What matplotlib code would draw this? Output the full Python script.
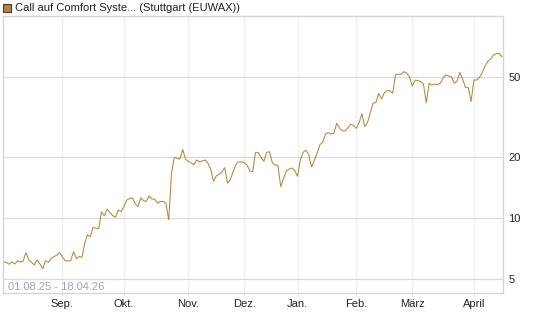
import matplotlib
matplotlib.use("Agg")
import matplotlib.pyplot as plt
from matplotlib.patches import Rectangle
import numpy as np
import pandas as pd

# ---- data (one value per trading day) ----
aug = [6.09, 6.04, 5.91, 6.07, 5.93, 6.16, 6.07, 6.12, 6.75, 6.21, 6.04,
       5.87, 6.21, 5.93, 5.62, 6.16, 6.04, 6.33, 6.45, 6.55, 6.75]
sep = [6.45, 6.16, 6.14, 6.16, 6.83, 6.30, 6.45, 6.40, 7.51, 8.29, 8.10,
       9.01, 8.91, 8.88, 10.77, 10.25, 11.1, 10.65, 10.3, 10.1, 10.98, 10.77]
okt = [11.4, 12.3, 12.5, 12.6, 11.85, 11.4, 12.6, 12.2, 12.1, 12.9, 12.45,
       12.4, 11.85, 12.1, 12.1, 11.85, 9.8, 16.7, 20.0, 19.8, 19.6, 21.9, 19.6]
nov = [19.1, 18.8, 18.4, 19.4, 19.0, 19.2, 19.4, 18.7, 17.5, 15.2, 16.2,
       16.5, 16.9, 17.8, 14.9, 15.5, 17.0, 18.4, 19.0, 19.0]
dez = [18.8, 18.3, 17.1, 17.0, 21.2, 21.1, 20.0, 19.1, 21.2, 21.3, 18.8,
       18.3, 18.3, 14.3, 15.7, 17.1, 17.5, 17.7, 17.2]
jan = [16.1, 19.4, 21.2, 21.7, 20.7, 17.9, 19.3, 21.0, 23.1, 23.8, 26.1,
       26.5, 26.1, 26.3, 29.5, 27.9, 27.1, 27.0, 28.0, 29.2, 28.8]
feb = [27.8, 29.7, 32.9, 28.4, 29.7, 33.3, 37.1, 37.3, 41.5, 39.0, 41.7,
       42.8, 42.8, 41.5, 51.2, 51.7, 51.5, 53.1, 52.2, 50.0]
maerz = [45.1, 48.2, 48.0, 47.4, 46.1, 37.1, 46.5, 45.6, 46.1, 45.8, 46.5,
         49.3, 51.2, 50.6, 50.0, 46.5, 47.7, 52.7, 48.7, 44.3, 44.3, 37.7]
april = [48.3, 48.3, 49.8, 52.7, 56.7, 59.8, 61.4, 64.3, 65.2, 65.5, 63.0]

holidays = ["2025-12-24", "2025-12-25", "2025-12-26", "2025-12-31",
            "2026-01-01", "2026-04-03", "2026-04-06"]
month_labels = ["Sep.", "Okt.", "Nov.", "Dez.", "Jan.", "Feb.", "März", "April"]
y_ticks = [5, 10, 20, 50]
title = "Call auf Comfort Syste... (Stuttgart (EUWAX))"
range_text = "01.08.25 - 18.04.26"

values = np.array(aug + sep + okt + nov + dez + jan + feb + maerz + april)
dates = pd.date_range("2025-08-01", "2026-04-17",
                      freq=pd.offsets.CustomBusinessDay(holidays=holidays))
x = np.arange(len(values))

# first trading day of each month from September on
month_start = [i for i in range(1, len(dates)) if dates[i].month != dates[i - 1].month]

# ---- figure ----
plt.rcParams['font.family'] = ['Liberation Sans', 'DejaVu Sans']
W, H = 545, 327
fig = plt.figure(figsize=(W / 100, H / 100), dpi=100)
L, R, T, B = 2.7, 503, 16, 293
ax = fig.add_axes([L / W, 1 - B / H, (R - L) / W, (B - T) / H])

ax.plot(x, values, color="#b5843f", lw=0.75, solid_joinstyle="miter")
ax.set_yscale("log")
ax.set_ylim(4.26, 100.2)
ax.set_xlim(-0.3, 178.4)

ax.set_yticks(y_ticks)
ax.set_yticklabels([str(v) for v in y_ticks])
ax.yaxis.set_minor_locator(matplotlib.ticker.NullLocator())
ax.yaxis.tick_right()
ax.tick_params(axis="y", length=0, pad=4, labelsize=8, labelcolor="#222222")

ax.set_xticks(month_start)
ax.set_xticklabels(month_labels)
ax.tick_params(axis="x", length=2, color="#dddddd", pad=2.5, labelsize=8,
               labelcolor="#222222")

ax.grid(axis="y", color="#dadada", lw=0.9)
ax.grid(axis="x", color="#efefef", lw=0.9)
ax.set_axisbelow(True)
for s in ax.spines.values():
    s.set_color("#d6d6d6")
    s.set_linewidth(1.0)

ax.text(8 / W, 1 - 287 / H, range_text, transform=fig.transFigure,
        fontsize=8, color="#9aa5b6", va="center", ha="left")

# title with legend square
fig.patches.append(Rectangle((3 / W, 1 - 12 / H), 8 / W, 8 / H,
                             transform=fig.transFigure, facecolor="#b5843f",
                             edgecolor="#4a3a25", lw=0.8))
fig.text(15 / W, 1 - 8 / H, title, fontsize=8, color="#222222",
         va="center", ha="left")

fig.savefig("out.png", dpi=100)
